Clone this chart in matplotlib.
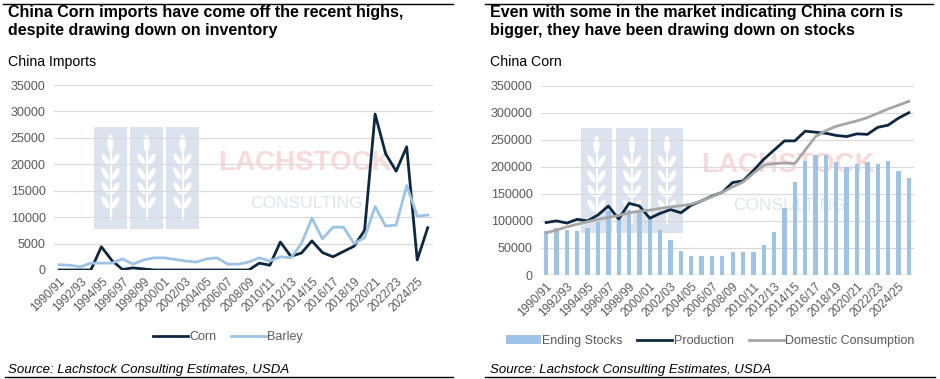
import matplotlib
matplotlib.use("Agg")
import matplotlib.pyplot as plt
import numpy as np
from matplotlib.patches import Rectangle, Ellipse
from matplotlib.lines import Line2D
from matplotlib.transforms import Affine2D

plt.rcParams['font.family'] = ['Liberation Sans', 'DejaVu Sans']

# ---------------- data ----------------
years = [f"{y}/{str(y + 1)[-2:]}" for y in range(1990, 2026)]

corn_imports = [0, 0, 0, 0, 4400, 1800, 100, 400, 200, 0,
                0, 0, 0, 0, 0, 0, 0, 0, 0, 1300,
                900, 5300, 2600, 3200, 5500, 3300, 2500, 3500, 4500, 7500,
                29500, 22000, 18700, 23300, 1900, 8000]
barley_imports = [1000, 900, 600, 1300, 1300, 1300, 2100, 1100, 1900, 2300,
                  2300, 2000, 1700, 1500, 2100, 2300, 1100, 1100, 1500, 2300,
                  1700, 2500, 2300, 5000, 9800, 5900, 8100, 8100, 5000, 6100,
                  12000, 8300, 8500, 16000, 10200, 10400]

ending_stocks = [81000, 87000, 84000, 81000, 87000, 98500, 119000, 108000, 121000, 117000,
                 103000, 83000, 65000, 44000, 35000, 35000, 35000, 35000, 42500, 42500,
                 42500, 55500, 79500, 124000, 172000, 211000, 222000, 222000, 209000, 199000,
                 205000, 209000, 205000, 211000, 193000, 179000]
production = [97000, 100000, 96000, 103000, 100000, 111000, 127500, 103500, 132500, 127500,
              105000, 114000, 121000, 115000, 129000, 137000, 146000, 153000, 171000, 174000,
              193000, 214000, 231000, 248000, 248000, 266000, 264000, 262000, 258000, 256000,
              261000, 260000, 273000, 277000, 290000, 300000]
consumption = [78000, 83000, 89000, 94000, 98500, 103000, 106500, 110000, 115000, 118000,
               120000, 123000, 126000, 128000, 131000, 137000, 145000, 153000, 163000, 172000,
               188000, 203000, 206000, 207000, 206000, 231000, 256000, 267000, 275000, 280000,
               285000, 291000, 299000, 307000, 314000, 321000]

left_title = "China Corn imports have come off the recent highs,\ndespite drawing down on inventory"
right_title = "Even with some in the market indicating China corn is\nbigger, they have been drawing down on stocks"
left_sub = "China Imports"
right_sub = "China Corn"
source = "Source: Lachstock Consulting Estimates, USDA"

# ---------------- styling ----------------
W, H = 940, 379
NAVY = "#0e2841"
LBLUE = "#9dc3e6"
GREY = "#a6a6a6"
TICK = "#595959"
GRID = "#d9d9d9"

fig = plt.figure(figsize=(W / 100, H / 100), dpi=100)
fig.patch.set_facecolor("white")

# pixel transform (origin top-left)
PX = Affine2D().scale(0.01, -0.01).translate(0, H / 100) + fig.dpi_scale_trans


def fx(x):
    return x / W


def fy(y):
    return 1 - y / H


def watermark(rects, ry, lx, ly, cx, cy):
    for (x0, x1) in rects:
        y0, y1 = ry
        fig.add_artist(Rectangle((x0, y0), x1 - x0, y1 - y0, transform=PX,
                                 facecolor="#dde3ee", edgecolor="none", zorder=-3))
        c = (x0 + x1) / 2
        h = y1 - y0
        fig.add_artist(Ellipse((c, y0 + 0.16 * h), 6, 0.17 * h, transform=PX,
                               facecolor="white", edgecolor="none", zorder=-2.5))
        for k in range(4):
            yy = y0 + (0.32 + 0.14 * k) * h
            for sgn in (-1, 1):
                fig.add_artist(Ellipse((c + sgn * 5, yy), 5, 0.13 * h, angle=sgn * 30,
                                       transform=PX, facecolor="white", edgecolor="none",
                                       zorder=-2.5))
        fig.add_artist(Line2D([c, c], [y0 + 0.25 * h, y0 + 0.9 * h], transform=PX,
                              color="white", lw=1.5, zorder=-2.5))
    fig.text(fx(lx), fy(ly), "LACHSTOCK", fontsize=20, fontweight="bold",
             color="#f9dada", ha="center", va="center", zorder=-2)
    fig.text(fx(cx), fy(cy), "CONSULTING", fontsize=12.5, color="#e0e4ee",
             ha="center", va="center", zorder=-2)


watermark([(94, 127), (130, 163), (166, 199)], (127, 229), 305, 163, 306, 203)
watermark([(581, 612), (616, 648), (651, 683)], (128, 233), 788, 165, 789, 206)

x = np.arange(len(years))


def style_axis(ax, ymax, step):
    ax.set_facecolor("none")
    ax.set_xlim(-0.5, len(years) - 0.5)
    ax.set_ylim(0, ymax)
    ax.set_yticks(np.arange(0, ymax + 1, step))
    ax.yaxis.grid(True, color=GRID, lw=0.8)
    ax.set_axisbelow(True)
    for s in ax.spines.values():
        s.set_visible(False)
    ax.set_xticks(x[::2])
    ax.set_xticklabels(years[::2], rotation=45, ha="right", rotation_mode="anchor",
                       fontsize=8.5, color=TICK)
    ax.tick_params(axis="both", length=0, labelsize=8.5, labelcolor=TICK)
    ax.tick_params(axis="x", pad=4)
    ax.tick_params(axis="y", pad=6)
    for lab in ax.get_yticklabels():
        lab.set_fontsize(9)


# ---------------- left chart ----------------
axL = fig.add_axes([fx(54), fy(270), (433 - 54) / W, (270 - 85) / H], zorder=1)
style_axis(axL, 35000, 5000)
axL.plot(x, corn_imports, color=NAVY, lw=2.0, label="Corn")
axL.plot(x, barley_imports, color=LBLUE, lw=2.0, label="Barley")
legL = fig.legend(*axL.get_legend_handles_labels(), loc="center", bbox_to_anchor=(fx(228), fy(337)),
                  ncol=2, frameon=False, fontsize=9, handlelength=2.8, columnspacing=1.2,
                  handletextpad=0.1)
for t in legL.get_texts():
    t.set_color(TICK)

# ---------------- right chart ----------------
axR = fig.add_axes([fx(541), fy(275), (914 - 541) / W, (275 - 85.7) / H], zorder=1)
style_axis(axR, 350000, 50000)
axR.bar(x, ending_stocks, width=0.42, color=LBLUE, label="Ending Stocks")
axR.plot(x, production, color=NAVY, lw=2.0, label="Production")
axR.plot(x, consumption, color=GREY, lw=2.0, label="Domestic Consumption")
axR.axhline(0, color=GRID, lw=0.8)
hR, lR = axR.get_legend_handles_labels()
order = [2, 0, 1]
legR = fig.legend([hR[i] for i in order], [lR[i] for i in order], loc="center",
                  bbox_to_anchor=(fx(710), fy(341)), ncol=3, frameon=False, fontsize=9,
                  handlelength=2.8, columnspacing=1.2, handletextpad=0.1)
for t in legR.get_texts():
    t.set_color(TICK)

# ---------------- titles / source / rules ----------------
for x0, title, sub in [(8, left_title, left_sub), (490, right_title, right_sub)]:
    fig.text(fx(x0), fy(5.5), title, fontsize=11.5, fontweight="bold", color="black",
             ha="left", va="top", linespacing=1.25)
    fig.text(fx(x0), fy(55), sub, fontsize=10.2, color="black", ha="left", va="top")
    fig.text(fx(x0), fy(373), source, fontsize=9.5, style="italic", color="black",
             ha="left", va="baseline")

for (a, b) in [(3, 453), (485, 933)]:
    fig.add_artist(Line2D([fx(a), fx(b)], [fy(4), fy(4)], color="black", lw=1.0))
for (a, b) in [(5, 453), (485, 935)]:
    fig.add_artist(Line2D([fx(a), fx(b)], [fy(376.5), fy(376.5)], color="black", lw=1.0))

fig.savefig("out.png", dpi=100, facecolor="white")
